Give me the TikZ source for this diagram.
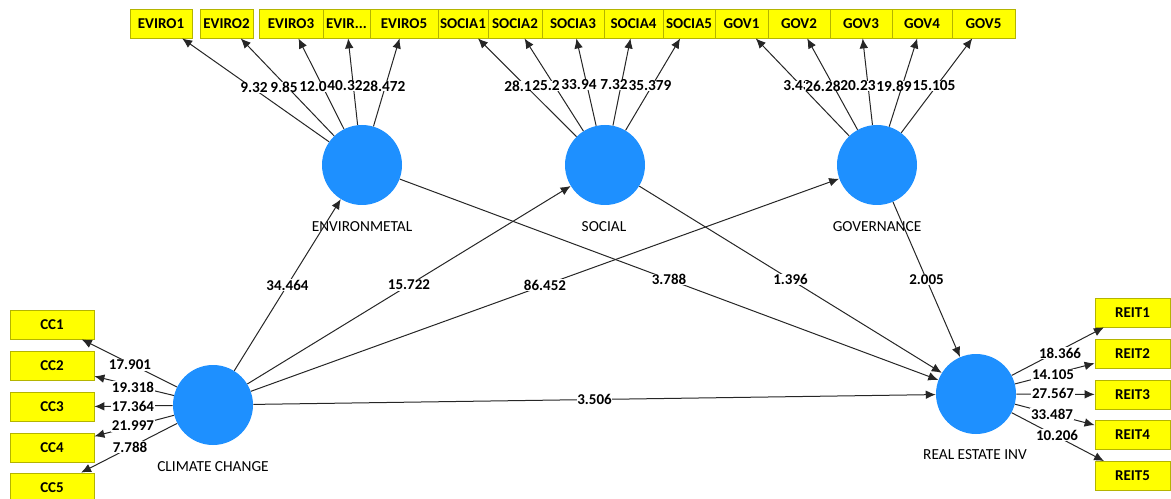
\documentclass[tikz,border=0pt]{standalone}
\usepackage{fontspec}
\setmainfont{Carlito}
\usetikzlibrary{arrows.meta}
\definecolor{lvblue}{RGB}{30,144,255}
\definecolor{boxyel}{RGB}{255,255,0}
\definecolor{boxedge}{RGB}{180,180,0}
\begin{document}
\begin{tikzpicture}[x=0.75pt,y=-0.75pt,
  lv/.style={circle, fill=lvblue, minimum size=60pt, inner sep=0pt},
  ybox/.style={draw=boxedge, line width=0.6pt, fill=boxyel, minimum height=21.75pt, minimum width=#1*0.75pt, inner sep=0pt, font=\bfseries\fontsize{11.25}{13}\selectfont},
  lvname/.style={font=\fontsize{11.5}{13}\selectfont},
  wt/.style={fill=white, inner sep=0.4pt, font=\bfseries\fontsize{11.25}{13}\selectfont},
  twt/.style={fill=white, inner sep=0pt, font=\bfseries\fontsize{11.5}{13}\selectfont},
  conn/.style={draw=black!85, line width=0.75pt, -{Latex[length=7.5pt,width=6.5pt]}},
]
\useasboundingbox (0,0) rectangle (1171,499);

% latent variables
\node[lv] (env) at (362,165) {};
\node[lv] (soc) at (605,165) {};
\node[lv] (gov) at (877,165) {};
\node[lv] (cc) at (213,405) {};
\node[lv] (rei) at (976,394) {};
\node[lvname] (envl) at (362,227) {ENVIRONMETAL};
\node[lvname] (socl) at (604,227) {SOCIAL};
\node[lvname] (govl) at (877,227) {GOVERNANCE};
\node[lvname] (ccl) at (213,467) {CLIMATE CHANGE};
\node[lvname] (reil) at (975,455) {REAL ESTATE INV};

% top indicators
\node[ybox=62] (e1) at (161,23.5) {EVIRO1};
\node[ybox=53] (e2) at (226.5,23.5) {EVIRO2};
\node[ybox=64] (e3) at (291,23.5) {EVIRO3};
\node[ybox=47] (e4) at (346.5,23.5) {EVIR...};
\node[ybox=68] (e5) at (404,23.5) {EVIRO5};
\node[ybox=50] (s1) at (463,23.5) {SOCIA1};
\node[ybox=54] (s2) at (515,23.5) {SOCIA2};
\node[ybox=62] (s3) at (573,23.5) {SOCIA3};
\node[ybox=59] (s4) at (633.5,23.5) {SOCIA4};
\node[ybox=52] (s5) at (689,23.5) {SOCIA5};
\node[ybox=53] (g1) at (741.5,23.5) {GOV1};
\node[ybox=62] (g2) at (799,23.5) {GOV2};
\node[ybox=62] (g3) at (861,23.5) {GOV3};
\node[ybox=60] (g4) at (922,23.5) {GOV4};
\node[ybox=63] (g5) at (983.5,23.5) {GOV5};

% left indicators
\node[ybox=84] (c1) at (52,324.5) {CC1};
\node[ybox=84] (c2) at (52,366) {CC2};
\node[ybox=84] (c3) at (52,407) {CC3};
\node[ybox=84] (c4) at (52,447.5) {CC4};
\node[ybox=84] (c5) at (52,487.5) {CC5};

% right indicators
\node[ybox=75] (r1) at (1132.5,312.5) {REIT1};
\node[ybox=75] (r2) at (1132.5,353.5) {REIT2};
\node[ybox=75] (r3) at (1132.5,394.5) {REIT3};
\node[ybox=75] (r4) at (1132.5,435) {REIT4};
\node[ybox=75] (r5) at (1132.5,476) {REIT5};

% indicator connectors
\foreach \t in {e1,e2,e3,e4,e5} \draw[conn] (env) -- (\t);
\foreach \t in {s1,s2,s3,s4,s5} \draw[conn] (soc) -- (\t);
\foreach \t in {g1,g2,g3,g4,g5} \draw[conn] (gov) -- (\t);
\foreach \t in {c1,c2,c3,c4,c5} \draw[conn] (cc) -- (\t);
\foreach \t in {r1,r2,r3,r4,r5} \draw[conn] (rei) -- (\t);

% structural connectors
\draw[conn] (cc) -- node[wt] (w1) {34.464} (env);
\draw[conn] (cc) -- node[wt] (w2) {15.722} (soc);
\draw[conn] (cc) -- node[wt] (w3) {86.452} (gov);
\draw[conn] (env) -- node[wt] (w4) {3.788} (rei);
\draw[conn] (soc) -- node[wt] (w5) {1.396} (rei);
\draw[conn] (gov) -- node[wt] (w6) {2.005} (rei);
\draw[conn] (cc) -- node[wt] (w7) {3.506} (rei);

% outer loading labels
\node[twt] (le1) at (254,88) {9.32};
\node[twt] (le2) at (284,87) {9.85};
\node[twt] (le3) at (313,87) {12.0};
\node[twt] (le4) at (345,86) {40.32};
\node[twt] (le5) at (384,86) {28.472};
\node[twt] (ls1) at (518,86) {28.1};
\node[twt] (ls2) at (546,86) {25.2};
\node[twt] (ls3) at (579,85) {33.94};
\node[twt] (ls4) at (614,85) {7.32};
\node[twt] (ls5) at (650,86) {35.379};
\node[twt] (lg1) at (797,86) {3.43};
\node[twt] (lg2) at (823,86) {26.28};
\node[twt] (lg3) at (858,86) {20.23};
\node[twt] (lg4) at (894,86) {19.89};
\node[twt] (lg5) at (934,86) {15.105};

\node[wt] (lc1) at (130,365) {17.901};
\node[wt] (lc2) at (133,387) {19.318};
\node[wt] (lc3) at (133,406) {17.364};
\node[wt] (lc4) at (133,426) {21.997};
\node[wt] (lc5) at (130,447) {7.788};

\node[wt] (lr1) at (1060,353) {18.366};
\node[wt] (lr2) at (1053,375) {14.105};
\node[wt] (lr3) at (1053,393) {27.567};
\node[wt] (lr4) at (1052,414) {33.487};
\node[wt] (lr5) at (1057,435) {10.206};
\end{tikzpicture}
\end{document}
